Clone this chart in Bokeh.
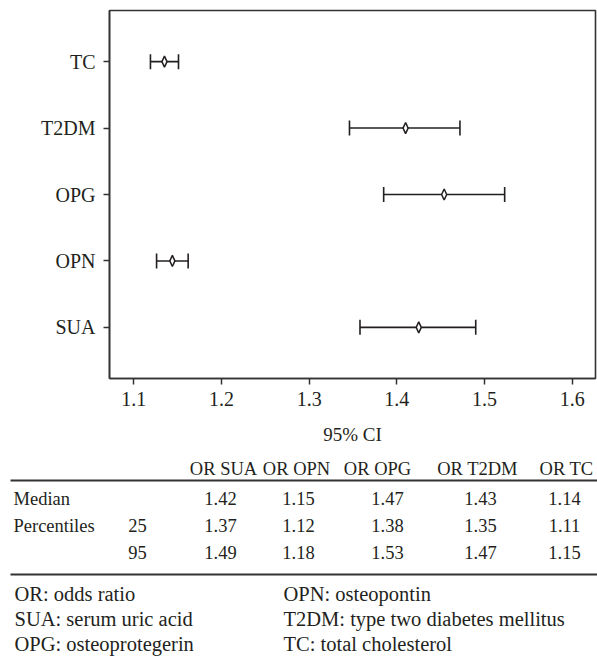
from bokeh.plotting import figure
from bokeh.models import Range1d, FixedTicker, Whisker, TeeHead, ColumnDataSource
from bokeh.layouts import column
from bokeh.embed import file_html
from bokeh.resources import INLINE
from bokeh.core.properties import value

# ---------------- data ----------------
markers = ["SUA", "OPN", "OPG", "T2DM", "TC"]
ci_low = [1.358, 1.126, 1.385, 1.346, 1.119]
ci_mid = [1.425, 1.144, 1.454, 1.410, 1.135]
ci_high = [1.490, 1.162, 1.523, 1.472, 1.151]
x_ticks = [1.1, 1.2, 1.3, 1.4, 1.5, 1.6]
x_label = "95% CI"

table_headers = ["OR SUA", "OR OPN", "OR OPG", "OR T2DM", "OR TC"]
row_labels = ["Median", "Percentiles", ""]
row_sublabels = ["", "25", "95"]
or_sua = [1.42, 1.37, 1.49]
or_opn = [1.15, 1.12, 1.18]
or_opg = [1.47, 1.38, 1.53]
or_t2dm = [1.43, 1.35, 1.47]
or_tc = [1.14, 1.11, 1.15]
notes_left = ["OR: odds ratio", "SUA: serum uric acid", "OPG: osteoprotegerin"]
notes_right = ["OPN: osteopontin", "T2DM: type two diabetes mellitus", "TC: total cholesterol"]

# ---------------- style / layout ----------------
FONT = "Liberation Serif"
INK = "#231f20"
LINE = "#333333"
W = 597
H1 = 453
H2 = 207
FRAME_L = 109
FRAME_R = 2
DIAMOND_HALF_W = 0.0029   # x data units (~2.5 px)
DIAMOND_HALF_H = 0.083    # y data units (~5.5 px)

# ---------------- forest plot ----------------
p1 = figure(width=W, height=H1, output_backend="svg", toolbar_location=None,
            x_range=Range1d(1.0723, 1.6266), y_range=Range1d(0.23, 5.77),
            min_border_left=FRAME_L, min_border_right=FRAME_R, min_border_top=10,
            min_border_bottom=75)

ypos = [i + 1 for i in range(len(markers))]
src = ColumnDataSource(dict(y=ypos, lo=ci_low, mid=ci_mid, hi=ci_high, name=markers))

head_kw = dict(size=15, line_color=INK, line_width=1.6)
w = Whisker(source=src, base="y", lower="lo", upper="hi", dimension="width",
            line_color=INK, line_width=1.6,
            lower_head=TeeHead(**head_kw), upper_head=TeeHead(**head_kw))
p1.add_layout(w)

xs = [[m - DIAMOND_HALF_W, m, m + DIAMOND_HALF_W, m] for m in ci_mid]
ys = [[y, y + DIAMOND_HALF_H, y, y - DIAMOND_HALF_H] for y in ypos]
p1.patches(xs=xs, ys=ys, fill_color="white", line_color=INK, line_width=1.5)

p1.xgrid.visible = False
p1.ygrid.visible = False
p1.outline_line_color = LINE
p1.outline_line_width = 1.6
p1.outline_line_alpha = 1.0

for ax in (p1.xaxis[0], p1.yaxis[0]):
    ax.axis_line_color = LINE
    ax.axis_line_width = 1.6
    ax.major_tick_line_color = LINE
    ax.major_tick_line_width = 1.5
    ax.major_tick_out = 6
    ax.major_tick_in = 0
    ax.minor_tick_line_color = None
    ax.major_label_text_font = FONT
    ax.major_label_text_font_size = "20px"
    ax.major_label_text_color = INK

p1.xaxis.major_label_standoff = 7
p1.yaxis.major_label_standoff = 8
p1.xaxis.ticker = FixedTicker(ticks=x_ticks)
p1.yaxis.ticker = FixedTicker(ticks=ypos)
p1.yaxis.major_label_overrides = {y: n for y, n in zip(ypos, markers)}
p1.xaxis.axis_label = x_label
p1.xaxis.axis_label_text_font = FONT
p1.xaxis.axis_label_text_font_style = "normal"
p1.xaxis.axis_label_text_font_size = "19px"
p1.xaxis.axis_label_text_color = INK
p1.xaxis.axis_label_standoff = 15

# ---------------- table (x in page pixels, y in pixels from top of this panel) ----------------
p2 = figure(width=W, height=H2, output_backend="svg", toolbar_location=None,
            x_range=Range1d(FRAME_L, W - FRAME_R), y_range=Range1d(H2, 0),
            min_border_left=FRAME_L, min_border_right=FRAME_R,
            min_border_top=0, min_border_bottom=0,
            x_axis_location=None, y_axis_location=None)
p2.xgrid.visible = False
p2.ygrid.visible = False
p2.outline_line_color = None

header_x = [223, 296, 377, 477, 566]
value_x = [220, 298, 387, 480, 564]
header_y = 15
row_y = [45, 72, 99]
rule_y = [27, 121]
rule_x0, rule_x1 = 10, 597
label_x = 13
sublabel_x = 137
note_y = [140, 165, 190]
note_left_x = 14
note_right_x = 283

txt = dict(text_font=value(FONT), text_color=INK, text_baseline="alphabetic",
           level="overlay")
TABLE_FS = "18.5px"
NOTE_FS = "20.5px"

p2.text(x=header_x, y=[header_y] * len(table_headers), text=table_headers,
        text_align="center", text_font_size=TABLE_FS, **txt)

columns = [or_sua, or_opn, or_opg, or_t2dm, or_tc]
vx, vy, vt = [], [], []
for j, col in enumerate(columns):
    for i, v in enumerate(col):
        vx.append(value_x[j])
        vy.append(row_y[i])
        vt.append(f"{v:.2f}")
p2.text(x=vx, y=vy, text=vt, text_align="center", text_font_size=TABLE_FS, **txt)

p2.text(x=[label_x] * len(row_labels), y=row_y, text=row_labels,
        text_align="left", text_font_size=TABLE_FS, **txt)
p2.text(x=[sublabel_x] * len(row_sublabels), y=row_y, text=row_sublabels,
        text_align="center", text_font_size=TABLE_FS, **txt)

p2.segment(x0=[rule_x0] * len(rule_y), x1=[rule_x1] * len(rule_y), y0=rule_y, y1=rule_y,
           line_color=LINE, line_width=2, level="overlay")

p2.text(x=[note_left_x] * len(notes_left), y=note_y, text=notes_left,
        text_align="left", text_font_size=NOTE_FS, **txt)
p2.text(x=[note_right_x] * len(notes_right), y=note_y, text=notes_right,
        text_align="left", text_font_size=NOTE_FS, **txt)

layout = column(p1, p2, spacing=0)
open("out.html", "w").write(file_html(layout, INLINE))
